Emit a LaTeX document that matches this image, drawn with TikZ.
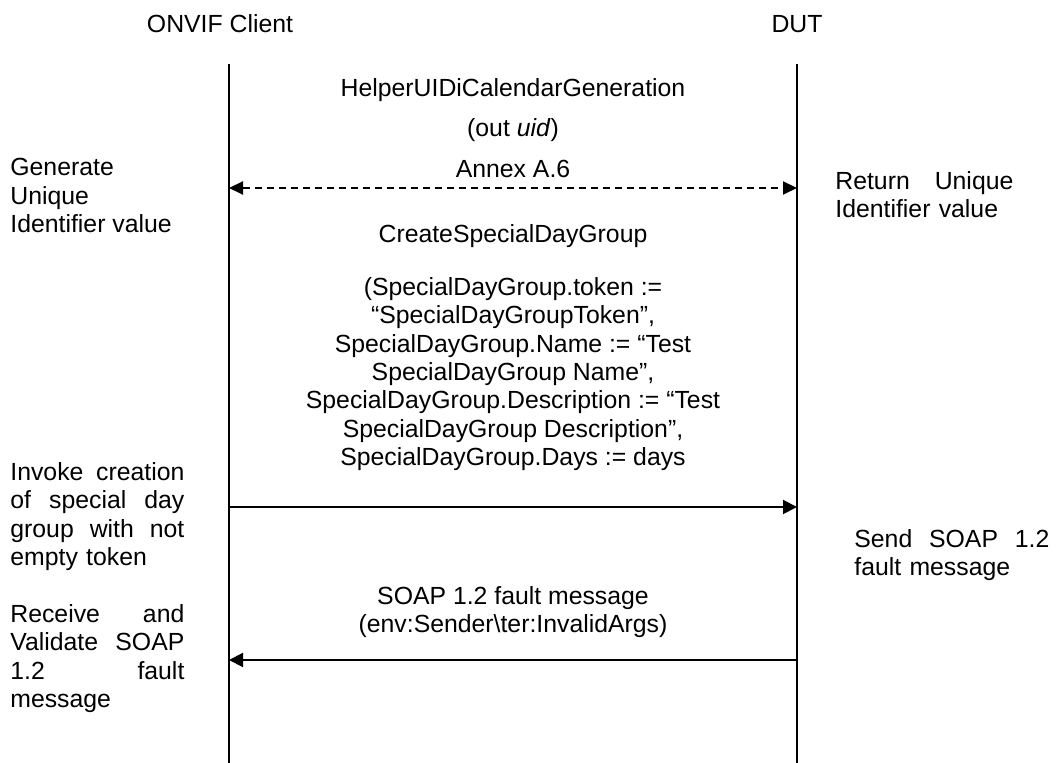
\documentclass[tikz,border=0pt]{standalone}
\usepackage{fontspec}
\setmainfont{Liberation Sans}
\usepackage{tikz}
\usetikzlibrary{arrows.meta}
\tikzset{
  vida/.style={line width=1pt},
  peticion/.style={line width=1pt, -{Triangle[length=7pt,width=7pt]}},
  ayuda/.style={line width=1pt, dash pattern=on 3.5pt off 2.5pt,
                {Triangle[length=7pt,width=6.5pt]}-{Triangle[length=7pt,width=6.5pt]}},
  rotulo/.style={inner sep=0pt, font=\fontsize{12.4}{14.2}\selectfont, align=center},
  nota/.style={inner sep=0pt, font=\fontsize{12.4}{14.2}\selectfont, align=left, anchor=north west}
}
\begin{document}
\begin{tikzpicture}[x=0.5pt, y=-0.5pt]
    \useasboundingbox (0,0) rectangle (1056,763);
    % cabeceras y lineas de vida
    \node[rotulo, anchor=base] (cli) at (220,33) {ONVIF Client};
    \node[rotulo, anchor=base] (dut) at (797,33) {DUT};
    \coordinate (cliTop) at (229,64);  \coordinate (cliBot) at (229,763);
    \coordinate (dutTop) at (797,64);  \coordinate (dutBot) at (797,763);
    \draw[vida] (cliTop) -- (cliBot);
    \draw[vida] (dutTop) -- (dutBot);
    % helper uid
    \node[rotulo, anchor=base] (helper) at (513,97)  {HelperUIDiCalendarGeneration};
    \node[rotulo, anchor=base] (outuid) at (513,137) {(out \textit{uid})};
    \node[rotulo, anchor=base] (annex)  at (513,178) {Annex A.6};
    \coordinate (uidC) at (229,188);  \coordinate (uidD) at (797,188);
    \draw[ayuda] (uidC) -- (uidD);
    \node[nota] (genN) at (10,158) {Generate\\Unique\\Identifier value};
    \node[nota, text width=89pt] (retN) at (835,171) {Return\hfill Unique\\Identifier value};
    % peticion
    \node[rotulo, anchor=base] (create) at (513,243) {CreateSpecialDayGroup};
    \node[rotulo, anchor=north] (params) at (513,277)
      {(SpecialDayGroup.token :=\\
       “SpecialDayGroupToken”,\\
       SpecialDayGroup.Name := “Test\\
       SpecialDayGroup Name”,\\
       SpecialDayGroup.Description := “Test\\
       SpecialDayGroup Description”,\\
       SpecialDayGroup.Days := days};
    \coordinate (reqC) at (229,507);  \coordinate (reqD) at (797,507);
    \draw[peticion] (reqC) -- (reqD);
    \node[nota, text width=87pt] (invN) at (10,462)
      {Invoke\hfill creation\\of\hfill special\hfill day\\group\hfill with\hfill not\\empty token};
    % respuesta
    \node[rotulo, anchor=north] (soap) at (513,586)
      {SOAP 1.2 fault message\\(env:Sender\textbackslash ter:InvalidArgs)};
    \coordinate (faultC) at (229,660);  \coordinate (faultD) at (797,660);
    \draw[peticion] (faultD) -- (faultC);
    \node[nota, text width=97.5pt] (sndN) at (854,529) {Send\hfill SOAP\hfill 1.2\\fault message};
    \node[nota, text width=87pt] (recN) at (10,604)
      {Receive\hfill and\\Validate\hfill SOAP\\1.2\hfill fault\\message};
\end{tikzpicture}
\end{document}
